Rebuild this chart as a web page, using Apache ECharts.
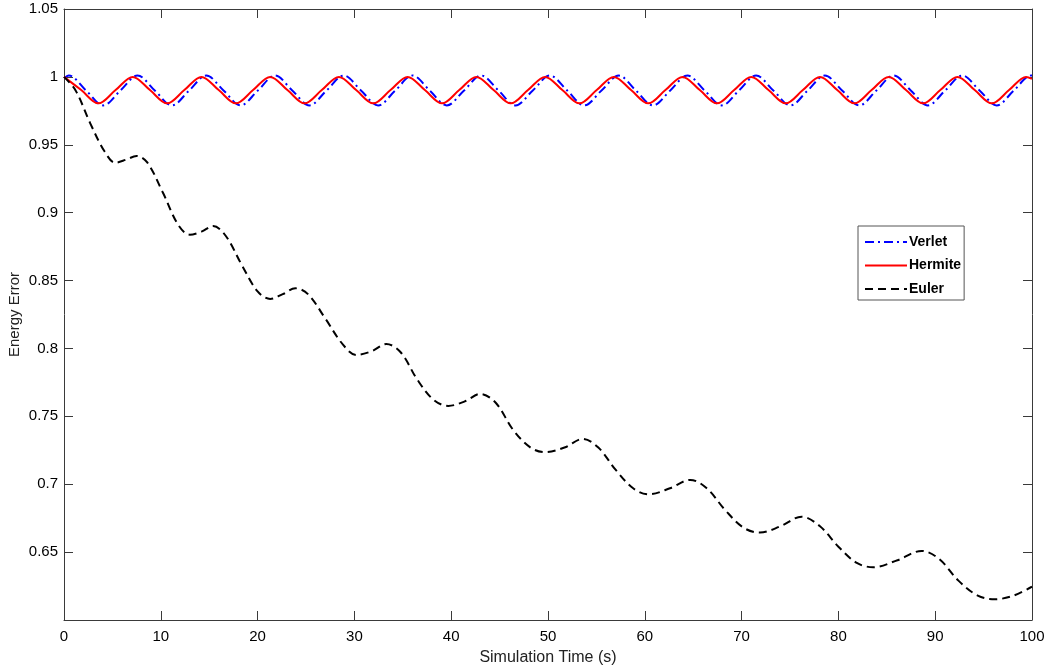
<!DOCTYPE html>
<html>
<head>
<meta charset="utf-8">
<script src="https://cdn.jsdelivr.net/npm/echarts@6/dist/echarts.min.js"></script>
<style>html,body{margin:0;padding:0;background:#fff;}#c{width:1044px;height:667px;}</style>
</head>
<body>
<div id="c"></div>
<script>
// ---- data ----
var seriesNames = ['Verlet', 'Hermite', 'Euler'];
var xTickLabels = ['0','10','20','30','40','50','60','70','80','90','100'];
var yTickLabels = ['0.65','0.7','0.75','0.8','0.85','0.9','0.95','1','1.05'];

var verlet = [
 [0,0.999],[0.5,1.001],[2.28,0.99],[4.05,0.979],[5.83,0.99],[7.6,1.001],[9.38,0.99],[11.15,0.979],[12.93,0.99],
 [14.7,1.001],[16.48,0.99],[18.25,0.979],[20.03,0.99],[21.8,1.001],[23.58,0.99],[25.35,0.979],[27.13,0.99],
 [28.9,1.001],[30.68,0.99],[32.45,0.979],[34.23,0.99],[36,1.001],[37.78,0.99],[39.55,0.979],[41.33,0.99],
 [43.1,1.001],[44.88,0.99],[46.65,0.979],[48.43,0.99],[50.2,1.001],[51.98,0.99],[53.75,0.979],[55.53,0.99],
 [57.3,1.001],[59.08,0.99],[60.85,0.979],[62.63,0.99],[64.4,1.001],[66.18,0.99],[67.95,0.979],[69.73,0.99],
 [71.5,1.001],[73.28,0.99],[75.05,0.979],[76.83,0.99],[78.6,1.001],[80.38,0.99],[82.15,0.979],[83.93,0.99],
 [85.7,1.001],[87.48,0.99],[89.25,0.979],[91.03,0.99],[92.8,1.001],[94.58,0.99],[96.35,0.979],[98.13,0.99],
 [99.9,1.001],[100,1.001]
];

var hermite = [
 [0,1.0],[1.78,0.9903],[3.55,0.9805],[5.33,0.9903],[7.1,1.0],[8.88,0.9903],[10.65,0.9805],[12.43,0.9903],
 [14.2,1.0],[15.98,0.9903],[17.75,0.9805],[19.53,0.9903],[21.3,1.0],[23.08,0.9903],[24.85,0.9805],[26.63,0.9903],
 [28.4,1.0],[30.18,0.9903],[31.95,0.9805],[33.73,0.9903],[35.5,1.0],[37.28,0.9903],[39.05,0.9805],[40.83,0.9903],
 [42.6,1.0],[44.38,0.9903],[46.15,0.9805],[47.93,0.9903],[49.7,1.0],[51.48,0.9903],[53.25,0.9805],[55.03,0.9903],
 [56.8,1.0],[58.58,0.9903],[60.35,0.9805],[62.13,0.9903],[63.9,1.0],[65.68,0.9903],[67.45,0.9805],[69.23,0.9903],
 [71,1.0],[72.78,0.9903],[74.55,0.9805],[76.33,0.9903],[78.1,1.0],[79.88,0.9903],[81.65,0.9805],[83.43,0.9903],
 [85.2,1.0],[86.98,0.9903],[88.75,0.9805],[90.53,0.9903],[92.3,1.0],[94.08,0.9903],[95.85,0.9805],[97.63,0.9903],
 [99.4,1.0],[100,0.9986]
];

var euler = [
 [0,1.0],[1.2,0.990],[2.7,0.966],[4.2,0.945],[5.3,0.9368],[6.4,0.939],[7.5,0.9418],[8.6,0.937],[10.2,0.915],
 [11.8,0.891],[13.0,0.8838],[14.2,0.886],[15.4,0.8902],[16.7,0.883],[18.4,0.861],[20.0,0.842],[21.3,0.8365],
 [22.6,0.840],[23.9,0.8443],[25.2,0.840],[27.0,0.822],[28.8,0.803],[30.2,0.7952],[31.8,0.798],[33.3,0.8033],
 [34.8,0.797],[36.5,0.777],[38.2,0.762],[39.7,0.7577],[41.4,0.761],[43.0,0.7665],[44.6,0.760],[46.4,0.740],
 [48.2,0.727],[49.7,0.7236],[51.7,0.727],[53.6,0.7334],[55.2,0.727],[57.0,0.7105],[58.8,0.697],[60.4,0.6926],
 [62.6,0.697],[64.7,0.7032],[66.4,0.697],[68.3,0.681],[70.2,0.668],[71.9,0.6644],[74.0,0.669],[76.2,0.6761],
 [78.1,0.669],[80.0,0.654],[81.9,0.642],[83.6,0.6389],[86.1,0.644],[88.6,0.6509],[90.4,0.645],[92.4,0.629],
 [94.4,0.618],[96.2,0.6153],[98.1,0.618],[100,0.6246]
];

var chart = echarts.init(document.getElementById('c'), null, {renderer: 'canvas'});
var font = 'Liberation Sans, Arial, Helvetica, sans-serif';
var axisLineColor = '#3a3a3a';

function lineSeries(name, data, color, type) {
  return {
    name: name, type: 'line', data: data, smooth: 0.35, showSymbol: false, symbol: 'none',
    xAxisIndex: 0, yAxisIndex: 0, clip: true,
    lineStyle: {color: color, width: 2, type: type},
    itemStyle: {color: color},
    animation: false
  };
}

function boxAxis(extra) {
  var base = {
    axisLine: {show: true, onZero: false, lineStyle: {color: axisLineColor, width: 1}},
    axisTick: {show: true, inside: true, length: 9, lineStyle: {color: axisLineColor}},
    splitLine: {show: false}
  };
  for (var k in extra) base[k] = extra[k];
  return base;
}

chart.setOption({
  animation: false,
  backgroundColor: '#ffffff',
  grid: {left: 64, right: 12, top: 9, bottom: 47, containLabel: false, outerBoundsMode: 'none'},
  legend: {
    data: seriesNames, orient: 'vertical', left: 858, top: 226,
    backgroundColor: '#ffffff', borderColor: '#555', borderWidth: 1, borderRadius: 0,
    padding: [9, 3, 4, 6], itemGap: 9.5, itemWidth: 42, itemHeight: 14,
    itemStyle: {opacity: 0},
    textStyle: {fontFamily: font, fontSize: 14, fontWeight: 'bold', color: '#000', padding: [0,0,0,-3]}
  },
  xAxis: [boxAxis({
    type: 'value', min: 0, max: 100, interval: 10, position: 'bottom',
    name: 'Simulation Time (s)', nameLocation: 'middle', nameGap: 30, nameMoveOverlap: false,
    nameTextStyle: {fontFamily: font, fontSize: 16, color: '#222'},
    axisLabel: {fontFamily: font, fontSize: 15, color: '#000', margin: 9,
      formatter: function (v) { return xTickLabels[Math.round(v / 10)]; }}
  }), boxAxis({
    type: 'value', min: 0, max: 100, interval: 10, position: 'top',
    axisLabel: {show: false}
  })],
  yAxis: [boxAxis({
    type: 'value', min: 0.6, max: 1.05, interval: 0.05, position: 'left',
    name: 'Energy Error', nameLocation: 'middle', nameGap: 42, nameMoveOverlap: false,
    nameTextStyle: {fontFamily: font, fontSize: 15, color: '#222'},
    axisLabel: {fontFamily: font, fontSize: 15, color: '#000', margin: 6, showMinLabel: false,
      formatter: function (v) {
        var i = Math.round((v - 0.65) / 0.05);
        return (i >= 0 && i < yTickLabels.length) ? yTickLabels[i] : '';
      }}
  }), boxAxis({
    type: 'value', min: 0.6, max: 1.05, interval: 0.05, position: 'right',
    axisLabel: {show: false}
  })],
  series: [
    lineSeries('Verlet', verlet, '#0000ff', [9, 4, 2, 4]),
    lineSeries('Hermite', hermite, '#ff0000', 'solid'),
    lineSeries('Euler', euler, '#000000', [8, 5])
  ]
});
</script>
</body>
</html>
